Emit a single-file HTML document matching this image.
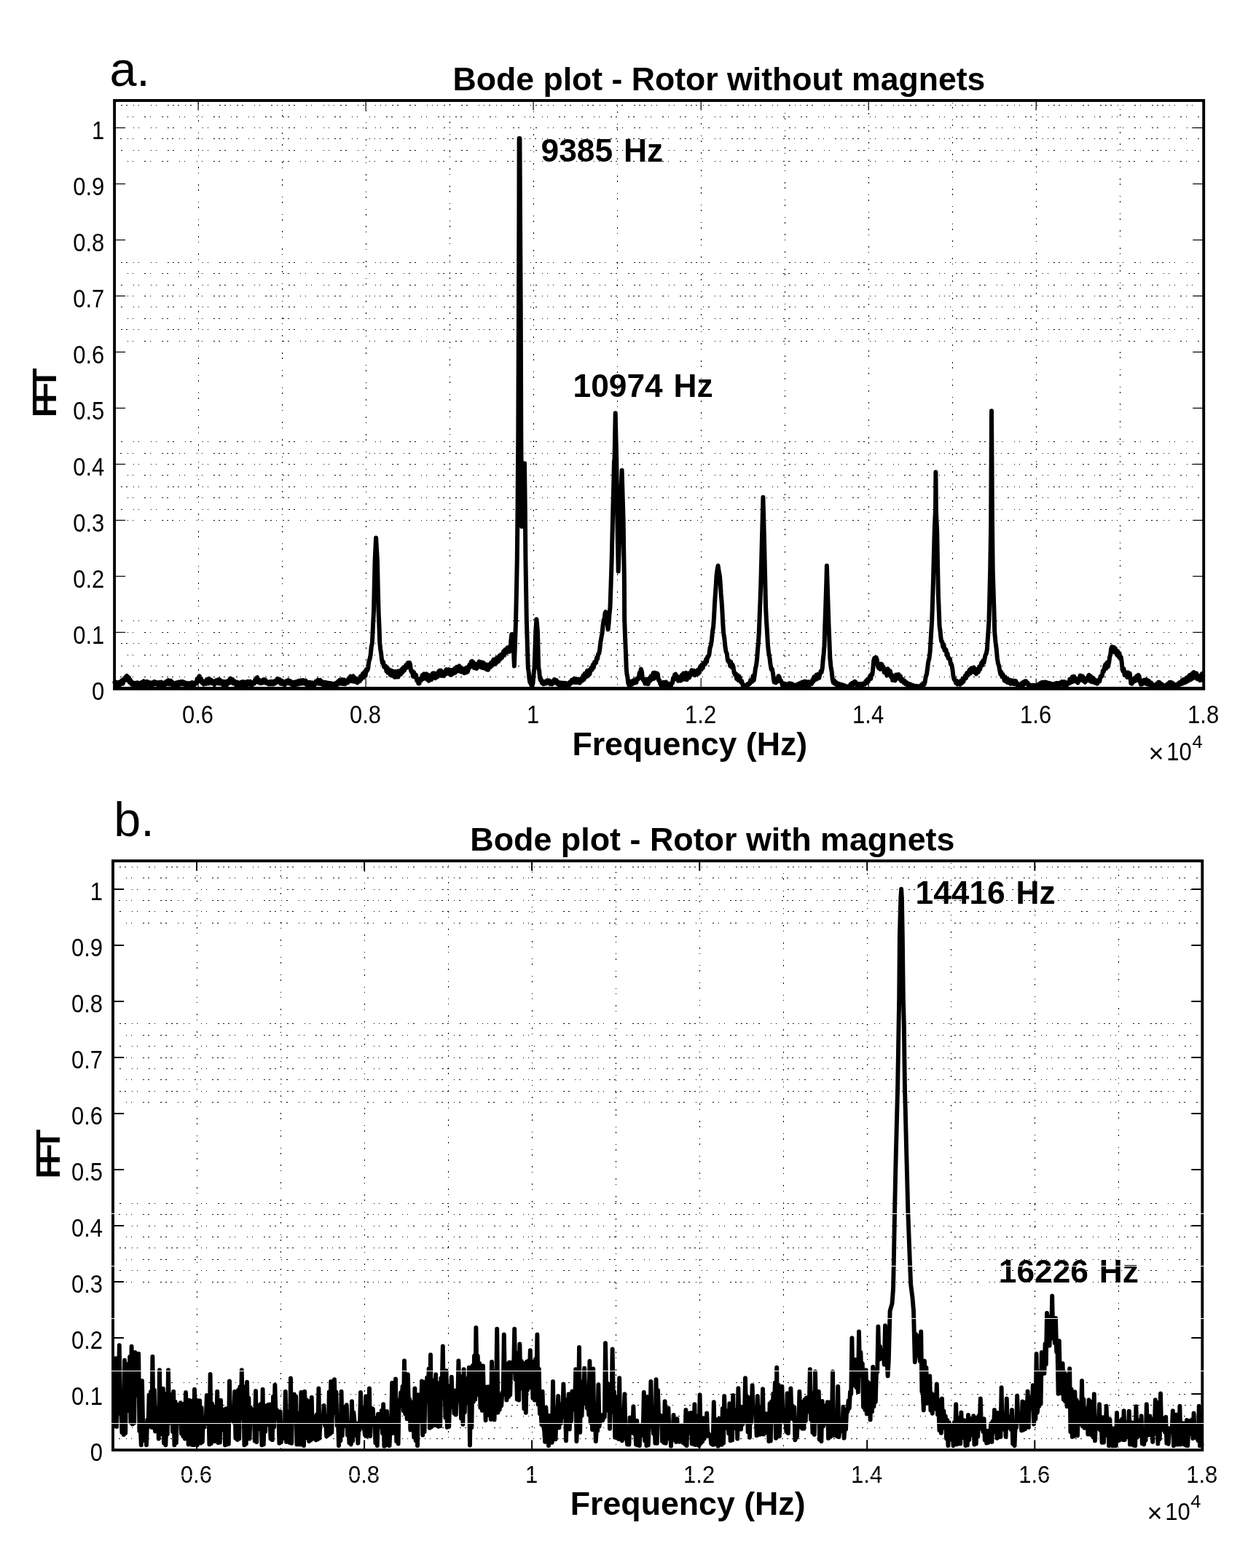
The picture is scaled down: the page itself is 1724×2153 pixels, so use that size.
<!DOCTYPE html>
<html lang="en">
<head>
<meta charset="utf-8">
<title>Bode plot - Rotor without / with magnets</title>
<style>
html,body{margin:0;padding:0;background:#fff;}
body{width:1724px;height:2153px;overflow:hidden;font-family:"Liberation Sans",Arial,Helvetica,sans-serif;}
svg{display:block;}
text{white-space:pre;}
</style>
</head>
<body>
<svg width="1724" height="2153" viewBox="0 0 1724 2153">
<rect x="0" y="0" width="1724" height="2153" fill="#fff"/>
<!-- a. Rotor without magnets -->
<g stroke="#000" stroke-width="1" fill="none" shape-rendering="crispEdges"><line x1="272.1" y1="141.0" x2="272.1" y2="943.3" stroke-dasharray="1.5 5.9 1.5 14.9" stroke-dashoffset="7.0"/><line x1="387.1" y1="141.0" x2="387.1" y2="943.3" stroke-dasharray="1.5 5.9 1.5 14.9" stroke-dashoffset="14.0"/><line x1="502.1" y1="141.0" x2="502.1" y2="943.3" stroke-dasharray="1.5 5.9 1.5 14.9" stroke-dashoffset="21.0"/><line x1="617.1" y1="141.0" x2="617.1" y2="943.3" stroke-dasharray="1.5 5.9 1.5 14.9" stroke-dashoffset="5.0"/><line x1="732.1" y1="141.0" x2="732.1" y2="943.3" stroke-dasharray="1.5 5.9 1.5 14.9" stroke-dashoffset="12.0"/><line x1="847.1" y1="141.0" x2="847.1" y2="943.3" stroke-dasharray="1.5 5.9 1.5 14.9" stroke-dashoffset="19.0"/><line x1="962.2" y1="141.0" x2="962.2" y2="943.3" stroke-dasharray="1.5 5.9 1.5 14.9" stroke-dashoffset="3.0"/><line x1="1077.2" y1="141.0" x2="1077.2" y2="943.3" stroke-dasharray="1.5 5.9 1.5 14.9" stroke-dashoffset="10.0"/><line x1="1192.2" y1="141.0" x2="1192.2" y2="943.3" stroke-dasharray="1.5 5.9 1.5 14.9" stroke-dashoffset="17.0"/><line x1="1307.2" y1="141.0" x2="1307.2" y2="943.3" stroke-dasharray="1.5 5.9 1.5 14.9" stroke-dashoffset="1.0"/><line x1="1422.2" y1="141.0" x2="1422.2" y2="943.3" stroke-dasharray="1.5 5.9 1.5 14.9" stroke-dashoffset="8.0"/><line x1="1537.2" y1="141.0" x2="1537.2" y2="943.3" stroke-dasharray="1.5 5.9 1.5 14.9" stroke-dashoffset="15.0"/><line x1="162.1" y1="144.7" x2="1648.2" y2="144.7" stroke-dasharray="1.5 5.6 1.5 5.6 1.5 8.0 1.5 5.6 1.5 15.1 1.5 5.6 1.5 15.1" stroke-dashoffset="3.0"/><line x1="162.1" y1="160.1" x2="1648.2" y2="160.1" stroke-dasharray="1.5 5.6 1.5 15.1" stroke-dashoffset="11.1"/><line x1="162.1" y1="175.5" x2="1648.2" y2="175.5" stroke-dasharray="1.5 5.6 1.5 15.1" stroke-dashoffset="3.0"/><line x1="162.1" y1="190.9" x2="1648.2" y2="190.9" stroke-dasharray="1.5 5.6 1.5 5.6 1.5 8.0 1.5 5.6 1.5 15.1 1.5 5.6 1.5 15.1" stroke-dashoffset="11.1"/><line x1="162.1" y1="206.3" x2="1648.2" y2="206.3" stroke-dasharray="1.5 5.6 1.5 15.1" stroke-dashoffset="3.0"/><line x1="162.1" y1="221.7" x2="1648.2" y2="221.7" stroke-dasharray="1.5 5.6 1.5 15.1" stroke-dashoffset="11.1"/><line x1="162.1" y1="360.3" x2="1648.2" y2="360.3" stroke-dasharray="1.5 5.6 1.5 5.6 1.5 8.0 1.5 5.6 1.5 15.1 1.5 5.6 1.5 15.1" stroke-dashoffset="3.0"/><line x1="162.1" y1="375.6" x2="1648.2" y2="375.6" stroke-dasharray="1.5 5.6 1.5 15.1" stroke-dashoffset="11.1"/><line x1="162.1" y1="391.0" x2="1648.2" y2="391.0" stroke-dasharray="1.5 5.6 1.5 15.1" stroke-dashoffset="3.0"/><line x1="162.1" y1="406.4" x2="1648.2" y2="406.4" stroke-dasharray="1.5 5.6 1.5 5.6 1.5 8.0 1.5 5.6 1.5 15.1 1.5 5.6 1.5 15.1" stroke-dashoffset="11.1"/><line x1="162.1" y1="421.8" x2="1648.2" y2="421.8" stroke-dasharray="1.5 5.6 1.5 15.1" stroke-dashoffset="3.0"/><line x1="162.1" y1="437.2" x2="1648.2" y2="437.2" stroke-dasharray="1.5 5.6 1.5 15.1" stroke-dashoffset="11.1"/><line x1="162.1" y1="452.6" x2="1648.2" y2="452.6" stroke-dasharray="1.5 5.6 1.5 5.6 1.5 8.0 1.5 5.6 1.5 15.1 1.5 5.6 1.5 15.1" stroke-dashoffset="3.0"/><line x1="162.1" y1="468.0" x2="1648.2" y2="468.0" stroke-dasharray="1.5 5.6 1.5 15.1" stroke-dashoffset="11.1"/><line x1="162.1" y1="606.6" x2="1648.2" y2="606.6" stroke-dasharray="1.5 5.6 1.5 15.1" stroke-dashoffset="3.0"/><line x1="162.1" y1="622.0" x2="1648.2" y2="622.0" stroke-dasharray="1.5 5.6 1.5 5.6 1.5 8.0 1.5 5.6 1.5 15.1 1.5 5.6 1.5 15.1" stroke-dashoffset="11.1"/><line x1="162.1" y1="637.4" x2="1648.2" y2="637.4" stroke-dasharray="1.5 5.6 1.5 15.1" stroke-dashoffset="3.0"/><line x1="162.1" y1="652.8" x2="1648.2" y2="652.8" stroke-dasharray="1.5 5.6 1.5 15.1" stroke-dashoffset="11.1"/><line x1="162.1" y1="668.2" x2="1648.2" y2="668.2" stroke-dasharray="1.5 5.6 1.5 5.6 1.5 8.0 1.5 5.6 1.5 15.1 1.5 5.6 1.5 15.1" stroke-dashoffset="3.0"/><line x1="162.1" y1="683.6" x2="1648.2" y2="683.6" stroke-dasharray="1.5 5.6 1.5 15.1" stroke-dashoffset="11.1"/><line x1="162.1" y1="699.0" x2="1648.2" y2="699.0" stroke-dasharray="1.5 5.6 1.5 15.1" stroke-dashoffset="3.0"/><line x1="162.1" y1="714.4" x2="1648.2" y2="714.4" stroke-dasharray="1.5 5.6 1.5 5.6 1.5 8.0 1.5 5.6 1.5 15.1 1.5 5.6 1.5 15.1" stroke-dashoffset="11.1"/><line x1="162.1" y1="852.9" x2="1648.2" y2="852.9" stroke-dasharray="1.5 5.6 1.5 15.1" stroke-dashoffset="3.0"/><line x1="162.1" y1="868.3" x2="1648.2" y2="868.3" stroke-dasharray="1.5 5.6 1.5 15.1" stroke-dashoffset="11.1"/><line x1="162.1" y1="883.7" x2="1648.2" y2="883.7" stroke-dasharray="1.5 5.6 1.5 5.6 1.5 8.0 1.5 5.6 1.5 15.1 1.5 5.6 1.5 15.1" stroke-dashoffset="3.0"/><line x1="162.1" y1="899.1" x2="1648.2" y2="899.1" stroke-dasharray="1.5 5.6 1.5 15.1" stroke-dashoffset="11.1"/><line x1="162.1" y1="914.5" x2="1648.2" y2="914.5" stroke-dasharray="1.5 5.6 1.5 15.1" stroke-dashoffset="3.0"/><line x1="162.1" y1="929.9" x2="1648.2" y2="929.9" stroke-dasharray="1.5 5.6 1.5 5.6 1.5 8.0 1.5 5.6 1.5 15.1 1.5 5.6 1.5 15.1" stroke-dashoffset="11.1"/></g>
<g stroke="#000" stroke-width="1.20" fill="none"><line x1="272.1" y1="138.0" x2="272.1" y2="151.6"/><line x1="272.1" y1="945.3" x2="272.1" y2="931.7"/><line x1="502.1" y1="138.0" x2="502.1" y2="151.6"/><line x1="502.1" y1="945.3" x2="502.1" y2="931.7"/><line x1="732.1" y1="138.0" x2="732.1" y2="151.6"/><line x1="732.1" y1="945.3" x2="732.1" y2="931.7"/><line x1="962.2" y1="138.0" x2="962.2" y2="151.6"/><line x1="962.2" y1="945.3" x2="962.2" y2="931.7"/><line x1="1192.2" y1="138.0" x2="1192.2" y2="151.6"/><line x1="1192.2" y1="945.3" x2="1192.2" y2="931.7"/><line x1="1422.2" y1="138.0" x2="1422.2" y2="151.6"/><line x1="1422.2" y1="945.3" x2="1422.2" y2="931.7"/><line x1="157.1" y1="868.3" x2="172.1" y2="868.3"/><line x1="1652.2" y1="868.3" x2="1637.2" y2="868.3"/><line x1="157.1" y1="791.3" x2="172.1" y2="791.3"/><line x1="1652.2" y1="791.3" x2="1637.2" y2="791.3"/><line x1="157.1" y1="714.4" x2="172.1" y2="714.4"/><line x1="1652.2" y1="714.4" x2="1637.2" y2="714.4"/><line x1="157.1" y1="637.4" x2="172.1" y2="637.4"/><line x1="1652.2" y1="637.4" x2="1637.2" y2="637.4"/><line x1="157.1" y1="560.4" x2="172.1" y2="560.4"/><line x1="1652.2" y1="560.4" x2="1637.2" y2="560.4"/><line x1="157.1" y1="483.4" x2="172.1" y2="483.4"/><line x1="1652.2" y1="483.4" x2="1637.2" y2="483.4"/><line x1="157.1" y1="406.4" x2="172.1" y2="406.4"/><line x1="1652.2" y1="406.4" x2="1637.2" y2="406.4"/><line x1="157.1" y1="329.5" x2="172.1" y2="329.5"/><line x1="1652.2" y1="329.5" x2="1637.2" y2="329.5"/><line x1="157.1" y1="252.5" x2="172.1" y2="252.5"/><line x1="1652.2" y1="252.5" x2="1637.2" y2="252.5"/><line x1="157.1" y1="175.5" x2="172.1" y2="175.5"/><line x1="1652.2" y1="175.5" x2="1637.2" y2="175.5"/></g>
<polyline points="157.5,937.0 158.4,936.4 159.4,941.0 160.3,938.0 161.2,937.1 162.1,941.4 162.9,937.6 164.0,936.6 165.1,940.0 166.2,936.2 167.3,934.2 168.5,938.8 169.7,934.9 170.8,931.4 171.9,933.9 173.1,928.9 174.0,928.0 174.8,934.0 175.7,931.4 176.8,930.3 177.8,936.9 178.9,933.4 179.9,936.4 180.9,939.8 181.9,937.1 182.8,937.9 183.9,941.2 185.0,937.8 186.1,940.8 187.2,937.7 188.3,937.4 189.4,942.0 190.5,938.9 191.4,938.1 192.3,942.3 193.1,938.6 194.2,937.1 195.2,940.2 196.2,936.4 197.1,935.4 198.0,940.2 198.9,936.9 200.0,936.1 201.0,940.3 202.0,936.0 203.1,936.5 204.3,939.9 205.5,937.2 206.7,937.9 207.8,941.0 208.9,937.3 210.0,937.6 210.9,939.8 211.7,936.1 212.6,936.2 213.6,939.4 214.5,936.8 215.5,938.0 216.6,940.2 217.8,936.9 218.9,936.9 220.1,940.3 221.3,936.7 222.5,937.4 223.6,940.9 224.6,937.9 225.6,938.4 226.6,940.0 227.6,936.4 228.6,939.3 229.5,935.2 230.8,934.1 232.0,939.5 233.2,935.3 234.3,934.7 235.3,939.9 236.4,936.4 237.4,938.2 238.5,941.9 239.5,938.2 240.5,938.9 241.4,940.8 242.3,937.3 243.3,937.3 244.3,940.2 245.3,936.6 246.3,939.9 247.3,936.5 248.4,936.0 249.6,939.5 250.7,936.1 251.7,936.2 252.7,939.7 253.6,937.1 254.6,938.3 255.8,941.3 257.0,938.1 258.2,938.6 259.3,941.5 260.3,938.0 261.4,938.1 262.6,941.0 263.8,937.2 265.0,937.7 266.2,941.4 267.3,937.5 268.5,937.8 269.6,938.3 270.6,932.1 271.7,934.4 272.8,929.7 273.8,928.4 274.8,935.6 275.7,931.4 276.7,934.1 277.6,937.9 278.6,935.1 279.6,939.6 280.6,937.9 281.7,936.1 282.8,939.0 283.9,932.7 285.1,933.6 286.1,938.5 287.1,931.9 288.1,933.7 289.1,937.5 290.0,933.7 291.0,938.3 292.0,936.1 293.1,935.6 294.3,940.1 295.4,936.3 296.3,934.5 297.2,938.0 298.1,934.3 299.1,933.5 300.1,938.5 301.2,933.2 302.2,934.7 303.2,938.7 304.2,935.1 305.2,937.2 306.2,940.4 307.3,935.8 308.3,940.1 309.4,936.2 310.5,935.8 311.7,940.1 312.8,936.7 313.9,934.3 314.9,937.8 316.0,931.5 317.1,932.5 318.1,937.2 319.2,932.9 320.2,938.4 321.3,936.0 322.4,935.5 323.5,940.1 324.6,937.1 325.7,936.7 326.8,940.8 327.8,937.8 328.9,938.9 329.8,940.7 330.8,936.7 331.7,936.5 332.7,940.2 333.7,936.1 334.7,936.7 335.8,940.7 337.0,936.5 338.1,937.8 339.1,940.2 340.1,935.7 341.2,936.0 342.3,939.8 343.4,935.7 344.5,937.1 345.7,940.9 346.9,937.1 348.1,938.7 349.1,938.8 350.1,933.5 351.0,935.7 352.0,931.1 353.2,930.2 354.5,936.9 355.7,934.4 356.6,934.0 357.5,938.3 358.3,937.1 359.4,935.4 360.4,937.7 361.4,933.2 362.4,933.1 363.4,936.9 364.5,933.9 365.5,938.1 366.5,936.6 367.6,936.5 368.7,939.4 369.8,936.3 370.7,936.1 371.7,939.4 372.6,935.9 373.6,936.2 374.4,939.5 375.3,935.9 376.2,936.5 377.1,938.8 378.1,934.5 379.0,934.6 379.9,936.9 380.8,931.9 381.6,932.5 382.6,936.4 383.5,932.6 384.4,935.1 385.5,938.8 386.6,934.5 387.7,936.1 388.7,939.5 389.8,936.0 390.9,940.3 391.9,937.3 392.8,935.3 393.8,938.2 394.7,934.5 395.8,933.8 396.8,938.4 397.9,935.2 398.8,935.3 399.7,939.6 400.7,938.3 401.8,937.2 402.9,941.3 404.0,936.6 405.1,937.4 406.3,940.0 407.4,935.9 408.6,936.3 409.5,939.5 410.4,934.7 411.3,935.2 412.3,938.8 413.3,934.2 414.3,934.8 415.3,938.4 416.2,934.1 417.2,934.6 418.3,938.6 419.4,934.5 420.5,940.0 421.6,937.6 422.5,936.9 423.4,941.4 424.4,937.6 425.2,937.0 426.1,941.3 426.9,937.6 428.0,937.4 429.1,941.2 430.3,938.0 431.4,938.6 432.3,940.1 433.3,935.9 434.3,938.3 435.3,934.8 436.3,933.7 437.4,938.8 438.5,934.4 439.5,933.9 440.5,939.3 441.5,935.6 442.5,937.6 443.6,940.4 444.6,936.7 445.6,940.1 446.6,937.0 447.6,936.9 448.6,940.9 449.5,938.4 450.0,938.4 451.2,937.8 452.3,941.8 453.5,938.0 454.6,942.1 455.8,938.5 457.0,942.4 458.1,938.7 459.3,942.8 460.4,939.3 461.6,937.7 462.8,940.1 463.9,935.7 465.1,938.9 466.2,933.7 467.4,934.0 468.6,938.8 469.9,933.1 471.1,939.0 472.4,933.5 473.6,939.2 474.9,934.7 476.1,935.8 477.3,937.4 478.5,931.5 479.8,935.4 481.0,928.8 482.2,929.7 483.4,935.5 484.6,928.3 485.8,935.7 487.0,930.4 488.2,936.3 489.4,932.3 490.6,937.6 491.8,934.9 492.8,932.3 493.9,935.3 494.9,928.5 495.9,932.5 497.0,928.0 498.1,924.8 499.3,930.1 500.5,922.3 501.6,927.8 502.8,919.0 503.9,921.0 505.1,918.5 506.3,908.6 507.4,905.3 508.6,899.6 509.7,888.6 510.9,882.7 511.9,861.7 513.0,839.2 513.8,804.1 514.6,769.6 515.3,755.0 516.1,738.5 517.0,753.4 517.9,769.6 518.7,804.9 519.6,839.2 520.5,860.5 521.3,882.7 522.2,891.4 523.1,896.9 524.0,905.3 525.0,910.6 526.1,908.8 527.2,915.9 528.3,915.8 529.4,914.7 530.4,921.6 531.4,916.5 532.5,923.8 533.5,921.0 534.7,919.7 535.8,926.7 537.0,920.8 538.2,927.8 539.3,921.6 540.5,924.5 541.7,929.8 543.0,922.0 544.2,929.6 545.5,921.8 546.7,929.5 547.9,921.2 549.2,923.6 550.3,925.8 551.5,918.8 552.7,923.0 553.8,916.2 555.0,920.6 556.1,915.8 557.4,913.0 558.6,916.7 559.8,910.3 561.0,914.4 562.2,909.9 563.1,912.7 564.0,920.7 564.8,922.7 565.9,921.5 566.9,928.7 568.0,922.9 569.0,929.5 570.1,926.2 571.2,927.3 572.2,934.6 573.3,934.0 574.4,938.4 575.5,938.4 576.6,932.4 577.7,934.6 578.8,929.7 579.8,927.0 580.9,932.3 581.9,925.3 582.9,930.9 584.0,926.2 585.2,925.3 586.3,933.0 587.5,926.6 588.6,934.9 589.8,929.5 591.0,933.2 592.1,933.3 593.3,925.1 594.4,924.5 595.5,929.5 596.5,924.5 597.6,931.2 598.6,926.5 599.7,929.7 600.8,929.3 602.0,922.1 603.1,921.0 604.2,926.3 605.2,920.6 606.3,928.0 607.3,923.5 608.4,926.2 609.4,928.1 610.4,922.0 611.5,925.9 612.5,919.2 613.6,920.1 614.7,924.8 615.9,919.2 617.1,925.7 618.2,920.0 619.4,926.8 620.5,922.7 621.8,920.0 623.0,924.7 624.3,917.8 625.5,923.3 626.7,915.8 628.0,921.1 629.2,915.8 630.4,914.5 631.6,921.9 632.7,916.6 633.9,922.7 635.0,918.3 636.2,921.0 637.4,924.2 638.5,917.9 639.7,923.5 640.8,916.5 642.0,922.3 643.2,917.5 644.3,912.9 645.5,916.0 646.7,908.6 647.9,907.9 648.9,913.7 649.9,909.4 650.9,917.2 651.9,915.8 653.0,911.8 654.2,918.0 655.3,911.3 656.5,915.7 657.7,908.4 658.8,910.6 660.0,916.1 661.1,909.2 662.3,916.9 663.5,910.0 664.6,917.6 665.8,914.0 666.8,912.3 667.9,919.1 668.9,912.8 670.0,919.8 671.0,915.8 672.0,912.3 673.1,916.2 674.1,909.8 675.2,914.2 676.2,908.8 677.4,905.9 678.5,912.2 679.7,905.1 680.9,910.9 682.0,903.0 683.2,905.3 684.3,908.3 685.5,900.3 686.7,905.3 687.8,898.9 689.0,903.0 690.1,898.4 691.2,894.3 692.2,899.8 693.3,891.9 694.3,896.6 695.4,891.4 696.4,889.4 697.4,895.0 698.5,888.7 699.5,894.7 700.6,889.7 701.4,879.3 702.3,871.0 703.2,875.6 704.2,874.0 705.0,893.8 705.9,914.5 707.0,883.2 708.1,851.0 709.0,808.7 709.8,767.0 710.5,700.0 711.3,600.0 712.0,420.0 712.4,300.0 712.6,190.0 713.4,190.0 714.0,300.0 714.7,420.0 715.3,600.0 716.2,723.0 716.9,712.3 717.5,700.0 718.3,678.3 719.2,658.2 720.0,636.3 720.8,700.0 721.4,767.0 722.1,808.8 722.8,851.0 723.8,884.4 724.8,917.0 725.7,922.5 726.5,931.7 727.4,937.0 728.5,938.0 729.5,941.0 730.5,941.7 731.5,938.0 732.5,926.4 733.5,917.0 734.4,893.2 735.2,868.0 736.4,850.3 737.2,857.9 738.0,868.0 738.6,893.1 739.3,917.0 740.2,921.2 741.0,930.6 741.9,934.0 742.9,933.1 743.9,937.9 744.9,935.5 745.9,939.3 746.9,937.5 748.1,936.1 749.4,938.6 750.6,934.5 751.9,934.3 752.9,937.8 753.9,934.7 754.9,939.1 755.9,936.5 756.9,937.7 757.9,939.3 758.9,935.2 759.9,937.8 760.9,933.0 761.9,933.5 762.9,937.4 763.9,934.2 764.9,939.0 765.9,936.5 766.9,938.5 768.0,941.8 769.2,937.4 770.3,941.1 771.4,937.6 772.5,940.9 773.6,937.7 774.7,937.7 775.8,941.1 777.0,938.1 778.1,942.2 779.2,938.5 780.3,939.4 781.4,940.5 782.5,936.2 783.6,938.6 784.8,933.9 785.9,936.6 787.0,932.7 788.1,931.8 789.2,937.1 790.3,932.3 791.4,937.0 792.6,932.8 793.7,937.2 794.8,932.6 795.9,937.8 797.0,934.3 798.1,931.5 799.3,934.6 800.4,927.6 801.5,933.0 802.6,924.8 803.7,926.0 804.8,929.4 805.9,921.1 807.1,928.1 808.2,920.3 809.3,925.7 810.4,921.0 811.5,916.9 812.6,919.8 813.7,912.9 814.9,916.6 816.0,909.1 817.1,909.3 818.1,910.0 819.1,902.8 820.1,904.8 821.1,898.0 822.1,897.6 823.2,892.1 824.3,881.7 825.4,875.8 826.6,869.0 827.7,857.9 828.8,850.8 829.6,849.6 830.5,842.1 831.3,840.2 832.4,850.3 833.5,854.7 834.6,864.3 835.6,855.7 836.5,843.0 837.5,834.0 838.6,801.3 839.7,767.2 840.5,733.3 841.3,700.3 842.2,667.3 843.0,633.4 843.5,630.5 844.7,567.2 845.4,598.6 846.2,630.5 847.4,714.0 848.0,749.5 848.7,784.4 849.9,748.7 851.0,714.0 851.9,691.9 852.7,667.9 853.6,645.8 854.6,680.4 855.6,714.0 856.2,755.6 856.9,797.6 857.2,850.8 858.0,873.6 858.9,894.9 859.7,917.6 860.5,925.8 861.4,930.0 862.2,937.7 863.3,940.7 864.4,936.6 865.6,940.2 866.7,935.5 867.8,939.6 868.9,936.0 870.0,933.9 871.1,937.8 872.2,933.2 873.4,937.1 874.5,931.6 875.6,932.7 876.6,932.0 877.7,923.8 878.7,924.7 879.8,918.8 880.9,922.1 882.0,931.4 883.1,934.3 884.2,933.0 885.3,938.7 886.3,933.1 887.4,938.8 888.5,932.8 889.6,939.3 890.6,934.3 891.6,931.1 892.6,934.9 893.6,928.3 894.7,932.9 895.7,927.7 896.7,924.1 897.8,931.9 898.9,923.6 900.0,926.0 900.9,929.8 901.8,924.5 902.8,925.5 903.9,933.8 905.0,933.8 906.1,938.4 907.3,941.0 908.4,937.7 909.6,940.8 910.7,936.8 911.9,940.0 913.1,936.7 914.2,936.5 915.3,941.0 916.4,938.3 917.5,942.4 918.7,939.4 919.8,943.5 920.9,941.9 921.9,937.8 923.0,937.8 924.0,930.9 925.1,932.5 926.1,926.2 927.3,925.7 928.5,932.6 929.8,928.5 931.0,934.9 932.2,933.2 933.4,930.4 934.5,934.7 935.7,926.8 936.8,933.1 938.0,924.4 939.2,926.2 940.4,932.6 941.6,923.8 942.8,933.3 944.0,925.2 945.3,928.0 946.3,930.3 947.3,923.3 948.4,927.1 949.4,920.3 950.5,921.0 951.6,925.5 952.7,920.8 953.7,927.2 954.8,924.5 955.9,921.8 956.9,926.0 958.0,919.6 959.0,924.7 960.0,919.3 961.2,915.1 962.4,919.7 963.5,912.4 964.7,917.4 965.8,910.1 967.0,910.6 968.1,911.8 969.1,905.1 970.1,908.7 971.2,901.6 972.2,901.9 973.4,898.9 974.5,889.8 975.7,886.2 976.9,879.0 978.0,867.5 979.2,860.1 980.1,846.5 980.9,830.5 981.8,816.6 982.7,804.5 983.5,790.5 984.6,782.4 985.6,776.8 986.8,785.5 987.9,790.5 988.8,801.3 989.6,815.0 990.5,825.3 991.4,839.0 992.2,855.5 993.1,868.8 994.3,876.2 995.4,887.8 996.6,894.9 997.7,897.4 998.9,906.7 1000.1,908.8 1001.1,907.5 1002.2,914.2 1003.2,908.8 1004.2,916.0 1005.3,912.3 1006.5,915.5 1007.6,923.6 1008.8,926.2 1009.9,924.8 1011.1,931.9 1012.3,926.9 1013.4,934.1 1014.6,928.5 1015.7,931.5 1016.9,936.7 1018.2,935.1 1019.4,940.6 1020.6,940.4 1021.8,943.5 1023.0,943.5 1024.3,940.7 1025.5,943.1 1026.7,938.8 1027.9,938.4 1029.1,939.0 1030.2,933.7 1031.4,933.2 1032.5,935.9 1033.6,928.1 1034.7,934.0 1035.7,928.0 1036.9,918.1 1038.1,913.3 1039.2,903.6 1040.1,891.2 1041.0,881.4 1041.8,868.8 1042.7,845.2 1043.6,823.0 1044.4,799.2 1045.3,764.1 1046.2,729.6 1047.4,682.8 1048.3,715.3 1049.1,747.0 1050.1,790.2 1051.1,834.0 1052.0,852.3 1053.0,867.9 1054.0,886.2 1055.2,897.0 1056.3,902.1 1057.5,912.3 1058.7,919.0 1059.8,918.6 1061.0,924.5 1061.8,931.9 1062.7,936.7 1063.9,934.6 1065.0,937.4 1066.2,931.7 1067.4,935.7 1068.5,928.3 1069.7,929.7 1070.8,935.2 1072.0,934.6 1073.2,938.4 1074.3,941.8 1075.5,938.4 1076.6,942.5 1077.8,938.9 1079.0,942.9 1080.1,940.2 1081.2,939.4 1082.3,942.1 1083.4,938.3 1084.5,938.4 1085.6,941.5 1086.8,939.0 1087.9,943.2 1089.1,940.0 1090.3,943.5 1091.4,941.9 1092.6,940.8 1093.7,943.5 1094.8,939.7 1096.0,942.8 1097.1,938.5 1098.2,941.5 1099.3,937.5 1100.5,940.8 1101.6,936.6 1102.7,936.7 1103.8,940.3 1104.8,935.6 1105.9,940.9 1106.9,936.1 1108.0,936.7 1109.0,940.1 1110.0,936.2 1111.1,940.8 1112.1,937.3 1113.2,938.4 1114.2,938.8 1115.3,933.3 1116.3,936.0 1117.4,929.3 1118.4,929.7 1119.6,933.1 1120.7,926.6 1121.9,932.1 1123.0,925.7 1124.2,930.9 1125.4,926.2 1126.5,921.9 1127.7,923.0 1128.8,917.5 1129.7,906.1 1130.6,897.7 1131.5,886.2 1132.3,859.6 1133.2,834.0 1134.1,805.9 1134.9,776.8 1135.8,804.9 1136.7,834.0 1137.5,857.8 1138.4,880.0 1139.3,903.6 1140.4,914.9 1141.6,922.1 1142.8,933.2 1143.8,937.3 1144.8,934.1 1145.9,938.9 1146.9,936.2 1148.0,938.4 1149.1,941.3 1150.3,938.6 1151.5,942.1 1152.6,939.2 1153.8,942.5 1154.9,940.2 1156.2,940.2 1157.4,943.5 1158.7,941.2 1159.9,943.5 1161.2,942.1 1162.4,943.5 1163.6,943.5 1164.9,942.3 1166.1,943.5 1167.4,939.7 1168.6,942.3 1169.9,937.7 1171.1,940.1 1172.3,936.7 1173.1,935.8 1174.1,936.3 1175.2,940.0 1176.3,938.3 1177.4,940.2 1178.6,942.9 1179.9,939.1 1181.1,942.2 1182.4,939.0 1183.6,942.1 1184.9,938.5 1186.1,938.4 1187.3,939.4 1188.4,935.2 1189.6,937.8 1190.7,932.7 1191.9,935.7 1193.1,931.5 1194.2,928.1 1195.2,932.2 1196.3,925.5 1197.4,926.2 1198.3,917.7 1199.2,907.1 1200.3,903.7 1201.5,907.6 1202.6,902.7 1203.8,906.0 1205.0,914.7 1206.1,917.5 1207.2,913.7 1208.3,918.9 1209.4,911.6 1210.5,912.3 1211.6,917.6 1212.6,915.7 1213.7,923.3 1214.8,922.8 1216.0,919.4 1217.3,927.6 1218.5,918.3 1219.7,926.4 1220.9,921.0 1221.9,921.5 1223.0,929.3 1224.0,926.5 1225.1,934.1 1226.1,933.2 1227.3,929.9 1228.6,934.5 1229.8,926.5 1231.0,931.5 1232.2,926.4 1233.4,926.0 1234.7,932.5 1235.9,928.3 1237.1,935.1 1238.3,933.2 1239.5,933.1 1240.6,937.5 1241.8,934.9 1242.9,939.2 1244.1,936.9 1245.3,938.4 1246.5,941.6 1247.8,939.0 1249.0,942.5 1250.2,939.8 1251.5,943.5 1252.7,940.8 1254.0,941.9 1255.2,943.5 1256.5,941.9 1257.7,943.5 1258.9,942.2 1260.2,943.5 1261.4,942.2 1262.7,942.8 1263.8,943.5 1265.0,940.0 1266.1,942.4 1267.3,938.0 1268.5,940.0 1269.6,936.7 1270.8,928.6 1271.9,926.3 1273.1,917.5 1274.3,908.2 1275.4,904.4 1276.6,894.9 1277.5,879.8 1278.3,866.7 1279.2,851.4 1280.1,824.8 1280.9,799.2 1281.8,764.8 1282.7,729.6 1283.3,714.2 1284.0,700.0 1284.4,648.3 1284.9,700.0 1285.5,715.5 1286.2,729.6 1287.0,772.8 1287.9,816.6 1288.8,839.1 1289.6,860.1 1290.5,865.9 1291.4,875.6 1292.3,881.0 1293.3,881.1 1294.3,888.3 1295.4,884.9 1296.4,892.9 1297.5,891.4 1298.5,892.0 1299.6,899.8 1300.6,897.2 1301.6,903.9 1302.7,903.6 1303.9,904.7 1305.0,912.2 1306.2,912.3 1307.3,918.2 1308.5,928.0 1309.7,933.2 1310.8,933.1 1312.0,937.7 1313.1,934.9 1314.3,939.6 1315.5,936.8 1316.6,938.4 1317.8,939.7 1318.9,934.8 1320.1,938.2 1321.3,932.3 1322.4,936.0 1323.6,931.5 1324.8,927.9 1326.0,931.1 1327.2,924.0 1328.4,927.4 1329.7,922.8 1330.9,919.6 1332.1,924.6 1333.3,917.5 1334.5,922.0 1335.8,917.5 1336.8,916.5 1337.8,923.2 1338.9,918.9 1339.9,925.4 1341.0,922.8 1342.0,918.8 1343.1,922.6 1344.1,915.3 1345.2,919.2 1346.2,914.1 1347.2,910.0 1348.3,913.6 1349.3,906.9 1350.4,910.2 1351.4,905.4 1352.6,899.2 1353.7,897.9 1354.9,891.4 1355.8,877.4 1356.6,865.7 1357.5,851.4 1358.4,816.2 1359.2,781.8 1360.2,720.0 1360.6,640.0 1361.0,564.3 1361.5,640.0 1362.0,720.0 1362.7,781.8 1363.6,811.3 1364.5,839.4 1365.3,868.8 1366.5,881.6 1367.7,891.0 1368.8,903.6 1370.0,911.2 1371.1,913.9 1372.3,921.0 1373.3,925.8 1374.4,922.6 1375.4,929.2 1376.5,925.8 1377.5,929.7 1378.7,934.4 1379.8,929.5 1381.0,936.0 1382.2,931.7 1383.3,937.3 1384.5,934.9 1385.7,933.6 1387.0,938.9 1388.2,934.3 1389.4,938.4 1390.7,934.5 1391.9,939.3 1393.2,934.9 1394.2,935.2 1395.3,939.8 1396.3,938.0 1397.4,942.9 1398.4,941.9 1399.6,940.2 1400.9,943.1 1402.1,938.4 1403.3,941.4 1404.6,936.5 1405.8,939.7 1407.1,935.2 1408.3,935.3 1409.4,938.6 1410.4,937.3 1411.5,940.9 1412.5,939.7 1413.6,941.3 1414.7,943.5 1415.8,941.2 1417.0,943.5 1418.1,940.9 1419.2,943.5 1420.4,941.2 1421.5,943.5 1422.6,941.3 1423.8,940.4 1425.0,942.8 1426.1,939.3 1427.3,942.5 1428.5,937.9 1429.7,941.4 1430.8,936.8 1432.0,940.5 1433.2,936.8 1434.4,936.5 1435.6,940.5 1436.8,937.0 1438.0,941.1 1439.2,937.8 1440.4,941.5 1441.6,938.4 1442.8,942.3 1444.0,939.2 1445.2,939.8 1446.5,942.8 1447.7,938.7 1448.9,942.4 1450.2,938.0 1451.4,941.6 1452.6,938.1 1453.9,940.7 1455.1,937.6 1456.3,939.9 1457.6,936.0 1458.8,936.8 1459.9,940.4 1461.0,936.1 1462.0,940.6 1463.1,937.0 1464.2,940.8 1465.3,937.7 1466.4,938.3 1467.4,938.4 1468.4,932.5 1469.4,932.3 1470.6,936.8 1471.8,929.3 1473.0,935.8 1474.2,928.7 1475.4,930.7 1476.4,935.2 1477.4,933.6 1478.4,936.8 1479.5,937.6 1480.5,931.5 1481.6,934.9 1482.6,927.6 1483.7,927.7 1484.8,932.3 1486.0,928.5 1487.1,934.9 1488.2,931.2 1489.4,936.9 1490.5,935.3 1491.5,931.6 1492.5,934.1 1493.5,929.2 1494.7,926.8 1495.9,934.9 1497.1,928.4 1498.3,936.2 1499.5,932.3 1500.6,930.8 1501.7,936.9 1502.8,933.3 1503.8,938.0 1504.9,934.7 1506.0,938.7 1507.1,936.8 1508.2,933.7 1509.3,935.4 1510.5,928.9 1511.6,929.2 1512.7,928.2 1513.9,920.7 1515.0,921.9 1516.1,915.7 1517.3,912.3 1518.5,917.8 1519.7,909.5 1521.0,915.4 1522.2,909.6 1523.2,902.0 1524.2,898.9 1525.2,890.8 1526.2,888.1 1527.2,894.9 1528.2,890.0 1529.1,889.0 1530.1,895.6 1531.0,890.4 1532.0,893.8 1533.1,899.2 1534.2,894.1 1535.4,901.7 1536.5,897.0 1537.6,904.2 1538.7,902.1 1539.5,907.6 1540.3,915.7 1541.4,921.6 1542.5,918.4 1543.6,927.0 1544.8,926.2 1546.0,923.4 1547.2,930.0 1548.4,923.4 1549.6,930.1 1550.8,924.7 1551.6,930.8 1552.3,938.3 1553.5,938.8 1554.6,934.5 1555.7,936.4 1556.8,932.3 1558.0,930.4 1559.1,934.7 1560.2,928.3 1561.4,933.8 1562.5,926.8 1563.6,928.5 1564.8,935.9 1565.9,939.8 1567.0,937.6 1568.2,939.1 1569.3,934.1 1570.4,933.8 1571.5,938.0 1572.6,933.2 1573.6,939.0 1574.7,933.9 1575.8,939.7 1576.9,935.0 1578.0,936.8 1579.0,940.2 1580.1,937.4 1581.2,942.2 1582.3,939.7 1583.3,943.4 1584.4,941.1 1585.5,942.8 1586.6,943.3 1587.8,938.9 1588.9,940.6 1590.0,936.8 1591.2,936.8 1592.3,940.8 1593.4,938.5 1594.5,942.1 1595.7,940.1 1596.8,943.5 1597.9,941.2 1599.1,942.8 1600.1,943.5 1601.2,940.4 1602.3,942.8 1603.4,938.6 1604.5,941.3 1605.5,936.8 1606.6,936.8 1607.7,939.7 1608.8,937.4 1609.8,941.3 1610.9,939.0 1612.0,942.4 1613.1,940.4 1614.2,941.3 1615.4,943.0 1616.6,939.0 1617.8,940.9 1619.0,937.0 1620.2,936.8 1621.4,939.0 1622.6,934.1 1623.8,938.4 1625.0,933.0 1626.2,933.8 1627.3,936.9 1628.4,930.7 1629.4,935.8 1630.5,929.5 1631.6,934.6 1632.7,927.1 1633.8,929.2 1635.0,932.9 1636.2,924.8 1637.4,931.3 1638.6,922.9 1639.8,924.7 1641.0,930.4 1642.2,924.5 1643.4,932.3 1644.6,927.6 1645.8,930.7 1646.9,934.1 1647.9,927.4 1649.0,933.9 1650.0,925.0 1651.1,927.7" fill="none" stroke="#000" stroke-width="6.00" stroke-linejoin="round" stroke-linecap="round"/>
<rect x="157.1" y="138.0" width="1495.1" height="807.3" fill="none" stroke="#000" stroke-width="3.9"/>
<line x1="155.2" y1="945.4" x2="1654.1" y2="945.4" stroke="#000" stroke-width="4.9"/>
<g font-family="'Liberation Sans', Arial, Helvetica, sans-serif" fill="#000"><text transform="translate(143.3 961.1) scale(1 1.125)" font-size="31" text-anchor="end">0</text><text transform="translate(143.3 884.1) scale(1 1.125)" font-size="31" text-anchor="end">0.1</text><text transform="translate(143.3 807.1) scale(1 1.125)" font-size="31" text-anchor="end">0.2</text><text transform="translate(143.3 730.2) scale(1 1.125)" font-size="31" text-anchor="end">0.3</text><text transform="translate(143.3 653.2) scale(1 1.125)" font-size="31" text-anchor="end">0.4</text><text transform="translate(143.3 576.2) scale(1 1.125)" font-size="31" text-anchor="end">0.5</text><text transform="translate(143.3 499.2) scale(1 1.125)" font-size="31" text-anchor="end">0.6</text><text transform="translate(143.3 422.2) scale(1 1.125)" font-size="31" text-anchor="end">0.7</text><text transform="translate(143.3 345.3) scale(1 1.125)" font-size="31" text-anchor="end">0.8</text><text transform="translate(143.3 268.3) scale(1 1.125)" font-size="31" text-anchor="end">0.9</text><text transform="translate(143.3 191.3) scale(1 1.125)" font-size="31" text-anchor="end">1</text><text transform="translate(271.5 992.8) scale(1 1.150)" font-size="31" text-anchor="middle">0.6</text><text transform="translate(501.5 992.8) scale(1 1.150)" font-size="31" text-anchor="middle">0.8</text><text transform="translate(731.5 992.8) scale(1 1.150)" font-size="31" text-anchor="middle">1</text><text transform="translate(961.6 992.8) scale(1 1.150)" font-size="31" text-anchor="middle">1.2</text><text transform="translate(1191.6 992.8) scale(1 1.150)" font-size="31" text-anchor="middle">1.4</text><text transform="translate(1421.6 992.8) scale(1 1.150)" font-size="31" text-anchor="middle">1.6</text><text transform="translate(1651.6 992.8) scale(1 1.150)" font-size="31" text-anchor="middle">1.8</text><text x="1576.5" y="1046.7" font-size="36">×</text><text transform="translate(1601.3 1043.7) scale(1 1.150)" font-size="31" text-anchor="start">10</text><text transform="translate(1636.4 1026.9) scale(1 0.970)" font-size="25.5" text-anchor="start">4</text></g>
<g font-family="'Liberation Sans', Arial, Helvetica, sans-serif" font-weight="bold" font-size="44.3" fill="#000"><text x="621.6" y="123.8" font-size="44.6">Bode plot - Rotor without magnets</text><text x="785.4" y="1036.6" font-size="44.7">Frequency (Hz)</text><text transform="translate(77.2 543.8) rotate(-90)" font-size="46.5" letter-spacing="-8.9" text-anchor="middle">FFT</text><text x="742.6" y="221.8" word-spacing="2.5">9385 Hz</text><text x="786.5" y="544.8" word-spacing="2.5">10974 Hz</text></g>
<text x="150.4" y="118.3" font-family="'Liberation Sans', Arial, Helvetica, sans-serif" font-size="66.5" fill="#000">a.</text>
<!-- b. Rotor with magnets -->
<g stroke="#000" stroke-width="1" fill="none" shape-rendering="crispEdges"><line x1="270.0" y1="1185.1" x2="270.0" y2="1989.0" stroke-dasharray="1.5 5.9 1.5 14.9" stroke-dashoffset="7.0"/><line x1="385.0" y1="1185.1" x2="385.0" y2="1989.0" stroke-dasharray="1.5 5.9 1.5 14.9" stroke-dashoffset="14.0"/><line x1="500.1" y1="1185.1" x2="500.1" y2="1989.0" stroke-dasharray="1.5 5.9 1.5 14.9" stroke-dashoffset="21.0"/><line x1="615.1" y1="1185.1" x2="615.1" y2="1989.0" stroke-dasharray="1.5 5.9 1.5 14.9" stroke-dashoffset="5.0"/><line x1="730.1" y1="1185.1" x2="730.1" y2="1989.0" stroke-dasharray="1.5 5.9 1.5 14.9" stroke-dashoffset="12.0"/><line x1="845.1" y1="1185.1" x2="845.1" y2="1989.0" stroke-dasharray="1.5 5.9 1.5 14.9" stroke-dashoffset="19.0"/><line x1="960.2" y1="1185.1" x2="960.2" y2="1989.0" stroke-dasharray="1.5 5.9 1.5 14.9" stroke-dashoffset="3.0"/><line x1="1075.2" y1="1185.1" x2="1075.2" y2="1989.0" stroke-dasharray="1.5 5.9 1.5 14.9" stroke-dashoffset="10.0"/><line x1="1190.2" y1="1185.1" x2="1190.2" y2="1989.0" stroke-dasharray="1.5 5.9 1.5 14.9" stroke-dashoffset="17.0"/><line x1="1305.2" y1="1185.1" x2="1305.2" y2="1989.0" stroke-dasharray="1.5 5.9 1.5 14.9" stroke-dashoffset="1.0"/><line x1="1420.3" y1="1185.1" x2="1420.3" y2="1989.0" stroke-dasharray="1.5 5.9 1.5 14.9" stroke-dashoffset="8.0"/><line x1="1535.3" y1="1185.1" x2="1535.3" y2="1989.0" stroke-dasharray="1.5 5.9 1.5 14.9" stroke-dashoffset="15.0"/><line x1="160.0" y1="1190.2" x2="1646.3" y2="1190.2" stroke-dasharray="1.5 5.6 1.5 5.6 1.5 8.0 1.5 5.6 1.5 15.1 1.5 5.6 1.5 15.1" stroke-dashoffset="3.0"/><line x1="160.0" y1="1205.6" x2="1646.3" y2="1205.6" stroke-dasharray="1.5 5.6 1.5 15.1" stroke-dashoffset="11.1"/><line x1="160.0" y1="1221.0" x2="1646.3" y2="1221.0" stroke-dasharray="1.5 5.6 1.5 15.1" stroke-dashoffset="3.0"/><line x1="160.0" y1="1236.4" x2="1646.3" y2="1236.4" stroke-dasharray="1.5 5.6 1.5 5.6 1.5 8.0 1.5 5.6 1.5 15.1 1.5 5.6 1.5 15.1" stroke-dashoffset="11.1"/><line x1="160.0" y1="1251.8" x2="1646.3" y2="1251.8" stroke-dasharray="1.5 5.6 1.5 15.1" stroke-dashoffset="3.0"/><line x1="160.0" y1="1267.2" x2="1646.3" y2="1267.2" stroke-dasharray="1.5 5.6 1.5 15.1" stroke-dashoffset="11.1"/><line x1="160.0" y1="1405.8" x2="1646.3" y2="1405.8" stroke-dasharray="1.5 5.6 1.5 5.6 1.5 8.0 1.5 5.6 1.5 15.1 1.5 5.6 1.5 15.1" stroke-dashoffset="3.0"/><line x1="160.0" y1="1421.2" x2="1646.3" y2="1421.2" stroke-dasharray="1.5 5.6 1.5 15.1" stroke-dashoffset="11.1"/><line x1="160.0" y1="1436.6" x2="1646.3" y2="1436.6" stroke-dasharray="1.5 5.6 1.5 15.1" stroke-dashoffset="3.0"/><line x1="160.0" y1="1452.0" x2="1646.3" y2="1452.0" stroke-dasharray="1.5 5.6 1.5 5.6 1.5 8.0 1.5 5.6 1.5 15.1 1.5 5.6 1.5 15.1" stroke-dashoffset="11.1"/><line x1="160.0" y1="1467.4" x2="1646.3" y2="1467.4" stroke-dasharray="1.5 5.6 1.5 15.1" stroke-dashoffset="3.0"/><line x1="160.0" y1="1482.8" x2="1646.3" y2="1482.8" stroke-dasharray="1.5 5.6 1.5 15.1" stroke-dashoffset="11.1"/><line x1="160.0" y1="1498.2" x2="1646.3" y2="1498.2" stroke-dasharray="1.5 5.6 1.5 5.6 1.5 8.0 1.5 5.6 1.5 15.1 1.5 5.6 1.5 15.1" stroke-dashoffset="3.0"/><line x1="160.0" y1="1513.6" x2="1646.3" y2="1513.6" stroke-dasharray="1.5 5.6 1.5 15.1" stroke-dashoffset="11.1"/><line x1="160.0" y1="1652.2" x2="1646.3" y2="1652.2" stroke-dasharray="1.5 5.6 1.5 15.1" stroke-dashoffset="3.0"/><line x1="160.0" y1="1667.6" x2="1646.3" y2="1667.6" stroke-dasharray="1.5 5.6 1.5 5.6 1.5 8.0 1.5 5.6 1.5 15.1 1.5 5.6 1.5 15.1" stroke-dashoffset="11.1"/><line x1="160.0" y1="1683.0" x2="1646.3" y2="1683.0" stroke-dasharray="1.5 5.6 1.5 15.1" stroke-dashoffset="3.0"/><line x1="160.0" y1="1698.4" x2="1646.3" y2="1698.4" stroke-dasharray="1.5 5.6 1.5 15.1" stroke-dashoffset="11.1"/><line x1="160.0" y1="1713.8" x2="1646.3" y2="1713.8" stroke-dasharray="1.5 5.6 1.5 5.6 1.5 8.0 1.5 5.6 1.5 15.1 1.5 5.6 1.5 15.1" stroke-dashoffset="3.0"/><line x1="160.0" y1="1729.2" x2="1646.3" y2="1729.2" stroke-dasharray="1.5 5.6 1.5 15.1" stroke-dashoffset="11.1"/><line x1="160.0" y1="1744.6" x2="1646.3" y2="1744.6" stroke-dasharray="1.5 5.6 1.5 15.1" stroke-dashoffset="3.0"/><line x1="160.0" y1="1760.0" x2="1646.3" y2="1760.0" stroke-dasharray="1.5 5.6 1.5 5.6 1.5 8.0 1.5 5.6 1.5 15.1 1.5 5.6 1.5 15.1" stroke-dashoffset="11.1"/><line x1="160.0" y1="1898.6" x2="1646.3" y2="1898.6" stroke-dasharray="1.5 5.6 1.5 15.1" stroke-dashoffset="3.0"/><line x1="160.0" y1="1914.0" x2="1646.3" y2="1914.0" stroke-dasharray="1.5 5.6 1.5 15.1" stroke-dashoffset="11.1"/><line x1="160.0" y1="1929.4" x2="1646.3" y2="1929.4" stroke-dasharray="1.5 5.6 1.5 5.6 1.5 8.0 1.5 5.6 1.5 15.1 1.5 5.6 1.5 15.1" stroke-dashoffset="3.0"/><line x1="160.0" y1="1944.8" x2="1646.3" y2="1944.8" stroke-dasharray="1.5 5.6 1.5 15.1" stroke-dashoffset="11.1"/><line x1="160.0" y1="1960.2" x2="1646.3" y2="1960.2" stroke-dasharray="1.5 5.6 1.5 15.1" stroke-dashoffset="3.0"/><line x1="160.0" y1="1975.6" x2="1646.3" y2="1975.6" stroke-dasharray="1.5 5.6 1.5 5.6 1.5 8.0 1.5 5.6 1.5 15.1 1.5 5.6 1.5 15.1" stroke-dashoffset="11.1"/></g>
<g stroke="#000" stroke-width="2.00" fill="none"><line x1="270.0" y1="1182.1" x2="270.0" y2="1195.7"/><line x1="270.0" y1="1991.0" x2="270.0" y2="1977.4"/><line x1="500.1" y1="1182.1" x2="500.1" y2="1195.7"/><line x1="500.1" y1="1991.0" x2="500.1" y2="1977.4"/><line x1="730.1" y1="1182.1" x2="730.1" y2="1195.7"/><line x1="730.1" y1="1991.0" x2="730.1" y2="1977.4"/><line x1="960.2" y1="1182.1" x2="960.2" y2="1195.7"/><line x1="960.2" y1="1991.0" x2="960.2" y2="1977.4"/><line x1="1190.2" y1="1182.1" x2="1190.2" y2="1195.7"/><line x1="1190.2" y1="1991.0" x2="1190.2" y2="1977.4"/><line x1="1420.3" y1="1182.1" x2="1420.3" y2="1195.7"/><line x1="1420.3" y1="1991.0" x2="1420.3" y2="1977.4"/><line x1="155.0" y1="1914.0" x2="170.0" y2="1914.0"/><line x1="1650.3" y1="1914.0" x2="1635.3" y2="1914.0"/><line x1="155.0" y1="1837.0" x2="170.0" y2="1837.0"/><line x1="1650.3" y1="1837.0" x2="1635.3" y2="1837.0"/><line x1="155.0" y1="1760.0" x2="170.0" y2="1760.0"/><line x1="1650.3" y1="1760.0" x2="1635.3" y2="1760.0"/><line x1="155.0" y1="1683.0" x2="170.0" y2="1683.0"/><line x1="1650.3" y1="1683.0" x2="1635.3" y2="1683.0"/><line x1="155.0" y1="1606.0" x2="170.0" y2="1606.0"/><line x1="1650.3" y1="1606.0" x2="1635.3" y2="1606.0"/><line x1="155.0" y1="1529.0" x2="170.0" y2="1529.0"/><line x1="1650.3" y1="1529.0" x2="1635.3" y2="1529.0"/><line x1="155.0" y1="1452.0" x2="170.0" y2="1452.0"/><line x1="1650.3" y1="1452.0" x2="1635.3" y2="1452.0"/><line x1="155.0" y1="1375.0" x2="170.0" y2="1375.0"/><line x1="1650.3" y1="1375.0" x2="1635.3" y2="1375.0"/><line x1="155.0" y1="1298.0" x2="170.0" y2="1298.0"/><line x1="1650.3" y1="1298.0" x2="1635.3" y2="1298.0"/><line x1="155.0" y1="1221.0" x2="170.0" y2="1221.0"/><line x1="1650.3" y1="1221.0" x2="1635.3" y2="1221.0"/></g>
<polyline points="156.6,1865.4 157.8,1958.1 159.0,1865.3 160.2,1958.9 161.4,1865.0 162.6,1940.7 163.8,1847.3 165.0,1939.8 166.2,1921.4 167.4,1966.8 168.6,1915.4 169.8,1969.9 171.0,1867.8 172.2,1967.6 173.4,1878.0 174.6,1937.2 175.8,1873.0 177.0,1931.1 178.2,1863.0 179.4,1952.9 180.6,1848.7 181.8,1955.5 183.0,1874.3 184.2,1953.7 185.4,1856.9 186.6,1916.3 187.8,1904.4 189.0,1914.6 190.2,1858.6 191.4,1965.0 192.6,1954.4 193.8,1984.2 195.0,1896.0 196.2,1960.9 197.4,1956.3 198.6,1978.0 199.8,1955.8 201.0,1984.2 202.2,1949.8 203.4,1959.4 204.6,1915.4 205.8,1938.9 207.0,1910.9 208.2,1959.8 209.4,1862.6 210.6,1960.5 211.8,1908.7 213.0,1965.2 214.2,1933.1 215.4,1953.4 216.6,1937.7 217.8,1975.5 219.0,1881.2 220.2,1947.0 221.4,1966.2 222.6,1969.2 223.8,1906.8 225.0,1981.4 226.2,1913.6 227.4,1984.2 228.6,1951.5 229.8,1969.1 231.0,1881.2 232.2,1952.0 233.4,1949.4 234.6,1953.7 235.8,1914.7 237.0,1965.8 238.2,1910.8 239.4,1984.2 240.6,1924.6 241.8,1981.1 243.0,1942.4 244.2,1953.4 245.4,1928.6 246.6,1946.7 247.8,1926.3 249.0,1968.5 250.2,1927.8 251.4,1972.2 252.6,1930.6 253.8,1975.5 255.0,1912.0 256.2,1946.7 257.4,1924.3 258.6,1983.3 259.8,1922.7 261.0,1967.5 262.2,1924.3 263.4,1983.8 264.6,1923.1 265.8,1984.1 267.0,1907.8 268.2,1956.0 269.4,1922.3 270.6,1984.2 271.8,1923.7 273.0,1966.2 274.2,1923.3 275.4,1981.5 276.6,1932.9 277.8,1979.8 279.0,1946.3 280.2,1959.8 281.4,1947.2 282.6,1954.5 283.8,1916.0 285.0,1955.0 286.2,1931.3 287.4,1983.3 288.6,1887.0 289.8,1982.0 291.0,1927.3 292.2,1966.4 293.4,1931.4 294.6,1979.0 295.8,1935.4 297.0,1962.7 298.2,1910.8 299.4,1981.0 300.6,1924.3 301.8,1980.6 303.0,1922.6 304.2,1963.4 305.4,1937.9 306.6,1960.6 307.8,1935.5 309.0,1984.2 310.2,1934.1 311.4,1983.4 312.6,1937.8 313.8,1982.6 315.0,1896.4 316.2,1950.6 317.4,1936.4 318.6,1946.2 319.8,1940.4 321.0,1953.0 322.2,1910.8 323.4,1974.8 324.6,1952.0 325.8,1976.9 327.0,1908.8 328.2,1975.5 329.4,1904.1 330.6,1945.3 331.8,1881.2 333.0,1947.7 334.2,1904.0 335.4,1984.2 336.6,1914.6 337.8,1982.4 339.0,1897.7 340.2,1947.1 341.4,1919.8 342.6,1975.5 343.8,1932.4 345.0,1938.7 346.2,1935.2 347.4,1954.0 348.6,1935.5 349.8,1978.5 351.0,1909.9 352.2,1980.0 353.4,1929.5 354.6,1961.0 355.8,1929.5 357.0,1962.1 358.2,1927.7 359.4,1984.2 360.6,1907.8 361.8,1983.3 363.0,1933.2 364.2,1965.7 365.4,1930.4 366.6,1952.5 367.8,1929.0 369.0,1956.0 370.2,1928.4 371.4,1975.5 372.6,1929.0 373.8,1977.1 375.0,1917.7 376.2,1959.4 377.4,1901.6 378.6,1945.0 379.8,1935.7 381.0,1948.0 382.2,1938.7 383.4,1981.6 384.6,1938.1 385.8,1980.3 387.0,1970.9 388.2,1973.9 389.4,1971.9 390.6,1974.9 391.8,1910.8 393.0,1979.8 394.2,1942.1 395.4,1965.1 396.6,1938.6 397.8,1980.9 399.0,1892.5 400.2,1981.7 401.4,1928.9 402.6,1946.1 403.8,1914.5 405.0,1948.8 406.2,1917.5 407.4,1983.3 408.6,1940.5 409.8,1983.0 411.0,1940.9 412.2,1983.4 413.4,1911.7 414.6,1965.7 415.8,1940.2 417.0,1985.0 418.2,1910.8 419.4,1960.9 420.6,1922.0 421.8,1974.4 423.0,1923.9 424.2,1979.0 425.4,1923.9 426.6,1977.2 427.8,1918.6 429.0,1975.5 430.2,1961.0 431.4,1964.0 432.6,1944.6 433.8,1977.2 435.0,1942.3 436.2,1976.2 437.4,1906.4 438.6,1974.7 439.8,1945.3 441.0,1953.1 442.2,1948.7 443.4,1951.7 444.6,1929.9 445.8,1957.1 447.0,1949.3 448.2,1972.0 449.4,1944.1 450.6,1970.5 451.8,1911.1 453.0,1968.8 454.2,1896.9 455.4,1966.8 456.6,1909.7 457.8,1936.6 459.0,1894.3 460.2,1940.2 461.4,1911.5 462.6,1957.5 463.8,1943.6 465.0,1985.0 466.2,1944.3 467.4,1978.2 468.6,1910.8 469.8,1971.1 471.0,1932.8 472.2,1954.2 473.4,1949.4 474.6,1958.2 475.8,1929.1 477.0,1970.4 478.2,1953.0 479.4,1981.2 480.6,1975.1 481.8,1983.3 483.0,1924.2 484.2,1978.5 485.4,1939.3 486.6,1951.7 487.8,1957.4 489.0,1971.1 490.2,1957.2 491.4,1981.6 492.6,1954.0 493.8,1963.2 495.0,1912.0 496.2,1949.2 497.4,1932.5 498.6,1948.8 499.8,1960.6 501.0,1970.3 502.2,1917.2 503.4,1972.0 504.6,1921.9 505.8,1971.1 507.0,1906.4 508.2,1972.0 509.4,1933.1 510.6,1940.5 511.8,1934.3 513.0,1954.2 514.2,1946.7 515.4,1981.1 516.6,1949.9 517.8,1985.0 519.0,1941.8 520.2,1959.2 521.4,1943.1 522.6,1956.5 523.8,1936.7 525.0,1967.9 526.2,1928.2 527.4,1985.6 528.6,1940.6 529.8,1984.5 531.0,1938.0 532.2,1968.2 533.4,1958.0 534.6,1985.0 535.8,1954.8 537.0,1957.8 538.2,1898.6 539.4,1967.8 540.6,1963.0 541.8,1966.0 543.0,1893.4 544.2,1979.0 545.4,1962.0 546.6,1982.4 547.8,1922.7 549.0,1931.1 550.2,1912.3 551.4,1918.9 552.6,1903.7 553.8,1937.2 555.0,1868.5 556.2,1941.2 557.4,1910.5 558.6,1948.2 559.8,1887.3 561.0,1928.3 562.2,1920.9 563.4,1963.3 564.6,1925.2 565.8,1946.0 567.0,1930.6 568.2,1973.3 569.4,1906.4 570.6,1978.0 571.8,1915.3 573.0,1985.0 574.2,1915.1 575.4,1942.3 576.6,1930.2 577.8,1951.2 579.0,1896.4 580.2,1970.5 581.4,1905.0 582.6,1965.9 583.8,1897.4 585.0,1923.9 586.2,1891.4 587.4,1921.5 588.6,1879.5 589.8,1960.6 591.0,1860.3 592.2,1959.3 593.4,1895.3 594.6,1957.2 595.8,1901.6 597.0,1940.0 598.2,1887.3 599.4,1957.4 600.6,1906.5 601.8,1958.8 603.0,1898.9 604.2,1958.1 605.4,1892.1 606.6,1909.2 607.8,1848.5 609.0,1917.9 610.2,1886.1 611.4,1946.8 612.6,1882.1 613.8,1959.8 615.0,1903.0 616.2,1958.9 617.4,1919.9 618.6,1931.8 619.8,1890.8 621.0,1928.2 622.2,1911.3 623.4,1940.7 624.6,1909.4 625.8,1942.5 627.0,1909.1 628.2,1923.1 629.4,1868.5 630.6,1923.4 631.8,1889.8 633.0,1947.6 634.2,1894.7 635.4,1955.7 636.6,1880.3 637.8,1939.2 639.0,1892.8 640.2,1923.5 641.4,1895.0 642.6,1926.5 643.8,1877.7 645.0,1984.5 646.2,1897.7 647.4,1959.9 648.6,1875.3 649.8,1924.6 651.0,1861.8 652.2,1921.5 653.4,1822.9 654.6,1896.4 655.8,1862.0 657.0,1915.3 658.2,1871.9 659.4,1932.8 660.6,1891.6 661.8,1936.7 663.0,1875.5 664.2,1929.0 665.4,1904.2 666.6,1950.2 667.8,1904.7 669.0,1922.8 670.2,1904.2 671.4,1943.0 672.6,1907.2 673.8,1948.9 675.0,1869.9 676.2,1928.4 677.4,1891.0 678.6,1949.4 679.8,1882.6 681.0,1910.5 682.2,1824.7 683.4,1939.6 684.6,1917.9 685.8,1935.7 687.0,1915.5 688.2,1930.2 689.4,1912.1 690.6,1915.1 691.8,1832.5 693.0,1898.5 694.2,1874.3 695.4,1922.4 696.6,1872.9 697.8,1918.1 699.0,1870.8 700.2,1915.4 701.4,1871.0 702.6,1877.1 703.8,1880.5 705.0,1883.5 706.2,1824.7 707.4,1894.0 708.6,1857.7 709.8,1921.4 711.0,1861.2 712.2,1922.4 713.4,1845.5 714.6,1906.7 715.8,1868.9 717.0,1900.9 718.2,1871.9 719.4,1934.3 720.6,1874.2 721.8,1939.8 723.0,1869.8 724.2,1908.4 725.4,1868.7 726.6,1892.8 727.8,1854.2 729.0,1905.3 730.2,1872.5 731.4,1919.8 732.6,1869.5 733.8,1922.4 735.0,1866.1 736.2,1901.3 737.4,1832.5 738.6,1928.5 739.8,1879.6 741.0,1941.2 742.2,1933.0 743.4,1956.1 744.6,1910.8 745.8,1957.7 747.0,1963.4 748.2,1979.8 749.4,1932.6 750.6,1957.8 751.8,1950.2 753.0,1985.0 754.2,1943.6 755.4,1967.8 756.6,1972.6 757.8,1980.8 759.0,1896.9 760.2,1973.1 761.4,1967.5 762.6,1976.3 763.8,1933.1 765.0,1947.4 766.2,1916.9 767.4,1960.4 768.6,1929.3 769.8,1954.6 771.0,1928.2 772.2,1945.3 773.4,1900.4 774.6,1942.9 775.8,1922.0 777.0,1978.1 778.2,1930.6 779.4,1952.5 780.6,1914.3 781.8,1962.3 783.0,1920.7 784.2,1951.1 785.4,1910.5 786.6,1935.3 787.8,1922.3 789.0,1929.8 790.2,1880.3 791.4,1979.0 792.6,1947.7 793.8,1956.8 795.0,1849.9 796.2,1966.7 797.4,1897.2 798.6,1943.9 799.8,1902.7 801.0,1927.2 802.2,1878.6 803.4,1920.0 804.6,1905.1 805.8,1933.7 807.0,1904.5 808.2,1942.6 809.4,1869.0 810.6,1953.2 811.8,1915.4 813.0,1963.0 814.2,1879.5 815.4,1951.1 816.6,1932.0 817.8,1979.0 819.0,1961.6 820.2,1964.6 821.4,1901.2 822.6,1958.6 823.8,1948.1 825.0,1949.4 826.2,1943.1 827.4,1950.4 828.6,1942.8 829.8,1945.8 831.0,1844.2 832.2,1905.3 833.4,1898.7 834.6,1936.7 835.8,1900.7 837.0,1961.6 838.2,1902.0 839.4,1938.2 840.6,1852.5 841.8,1917.2 843.0,1910.7 844.2,1973.7 845.4,1918.0 846.6,1945.6 847.8,1948.1 849.0,1975.8 850.2,1892.2 851.4,1975.9 852.6,1954.2 853.8,1978.1 855.0,1937.6 856.2,1948.4 857.4,1914.3 858.6,1974.9 859.8,1970.2 861.0,1983.3 862.2,1972.0 863.4,1983.6 864.6,1946.4 865.8,1967.4 867.0,1947.9 868.2,1965.5 869.4,1931.2 870.6,1968.7 871.8,1953.7 873.0,1983.3 874.2,1950.8 875.4,1984.4 876.6,1962.7 877.8,1985.0 879.0,1956.8 880.2,1971.3 881.4,1957.5 882.6,1968.3 883.8,1911.7 885.0,1978.3 886.2,1921.5 887.4,1985.0 888.6,1917.9 889.8,1984.2 891.0,1947.7 892.2,1950.9 893.4,1896.9 894.6,1948.4 895.8,1949.1 897.0,1968.5 898.2,1946.7 899.4,1981.6 900.6,1894.3 901.8,1981.7 903.0,1908.9 904.2,1947.4 905.4,1942.6 906.6,1945.6 907.8,1944.2 909.0,1979.0 910.2,1949.1 911.4,1981.0 912.6,1924.2 913.8,1981.6 915.0,1951.4 916.2,1975.5 917.4,1933.4 918.6,1966.9 919.8,1959.4 921.0,1985.6 922.2,1962.2 923.4,1970.3 924.6,1943.0 925.8,1976.9 927.0,1949.3 928.2,1979.8 929.4,1948.2 930.6,1979.4 931.8,1958.0 933.0,1979.8 934.2,1957.5 935.4,1964.6 936.6,1958.2 937.8,1981.1 939.0,1956.5 940.2,1982.9 941.4,1936.0 942.6,1985.0 943.8,1943.4 945.0,1968.1 946.2,1940.4 947.4,1966.3 948.6,1940.0 949.8,1982.4 951.0,1940.0 952.2,1982.8 953.4,1928.2 954.6,1983.9 955.8,1944.3 957.0,1966.3 958.2,1951.3 959.4,1985.0 960.6,1915.2 961.8,1981.8 963.0,1948.9 964.2,1979.3 965.4,1947.2 966.6,1975.5 967.8,1950.6 969.0,1965.0 970.2,1940.4 971.4,1971.9 972.6,1968.4 973.8,1971.4 975.0,1970.7 976.2,1982.4 977.4,1970.9 978.6,1983.7 979.8,1925.2 981.0,1983.3 982.2,1971.2 983.4,1974.2 984.6,1949.3 985.8,1985.6 987.0,1947.8 988.2,1969.6 989.4,1950.5 990.6,1983.6 991.8,1934.0 993.0,1981.4 994.2,1916.9 995.4,1960.8 996.6,1937.0 997.8,1959.3 999.0,1946.4 1000.2,1968.4 1001.4,1927.3 1002.6,1978.1 1003.8,1947.7 1005.0,1977.4 1006.2,1916.0 1007.4,1961.1 1008.6,1937.6 1009.8,1952.9 1011.0,1936.2 1012.2,1975.5 1013.4,1906.1 1014.6,1952.2 1015.8,1931.9 1017.0,1962.5 1018.2,1937.6 1019.4,1956.0 1020.6,1932.1 1021.8,1951.1 1023.0,1892.2 1024.2,1944.0 1025.4,1917.5 1026.6,1966.3 1027.8,1920.8 1029.0,1973.7 1030.2,1919.0 1031.4,1953.1 1032.6,1902.1 1033.8,1937.1 1035.0,1933.8 1036.2,1939.3 1037.4,1935.9 1038.6,1971.1 1039.8,1916.9 1041.0,1970.0 1042.2,1931.9 1043.4,1969.6 1044.6,1933.3 1045.8,1952.0 1047.0,1907.3 1048.2,1969.4 1049.4,1955.7 1050.6,1958.7 1051.8,1941.2 1053.0,1967.1 1054.2,1945.2 1055.4,1979.0 1056.6,1927.3 1057.8,1978.4 1059.0,1924.5 1060.2,1951.4 1061.4,1913.5 1062.6,1948.2 1063.8,1898.8 1065.0,1974.8 1066.2,1877.7 1067.4,1972.4 1068.6,1901.6 1069.8,1972.0 1071.0,1946.9 1072.2,1949.9 1073.4,1903.8 1074.6,1949.5 1075.8,1950.1 1077.0,1953.1 1078.2,1950.5 1079.4,1965.9 1080.6,1913.3 1081.8,1967.9 1083.0,1913.5 1084.2,1948.0 1085.4,1906.4 1086.6,1944.3 1087.8,1930.1 1089.0,1949.0 1090.2,1932.1 1091.4,1977.2 1092.6,1952.1 1093.8,1974.1 1095.0,1951.7 1096.2,1959.7 1097.4,1910.8 1098.6,1957.3 1099.8,1950.3 1101.0,1961.5 1102.2,1924.6 1103.4,1961.6 1104.6,1921.7 1105.8,1951.2 1107.0,1919.1 1108.2,1938.8 1109.4,1919.9 1110.6,1937.1 1111.8,1880.3 1113.0,1949.3 1114.2,1920.3 1115.4,1966.8 1116.6,1912.8 1117.8,1969.8 1119.0,1883.5 1120.2,1939.0 1121.4,1912.2 1122.6,1952.4 1123.8,1910.8 1125.0,1976.7 1126.2,1925.4 1127.4,1979.0 1128.6,1923.9 1129.8,1958.7 1131.0,1931.3 1132.2,1951.9 1133.4,1929.9 1134.6,1955.0 1135.8,1925.2 1137.0,1974.9 1138.2,1928.3 1139.4,1973.1 1140.6,1924.9 1141.8,1955.0 1143.0,1883.5 1144.2,1971.1 1145.4,1947.8 1146.6,1961.7 1147.8,1948.6 1149.0,1972.0 1150.2,1903.8 1151.4,1973.1 1152.6,1961.3 1153.8,1964.3 1155.0,1961.7 1156.2,1964.7 1157.4,1931.7 1158.6,1974.6 1159.8,1953.8 1161.0,1962.8 1162.2,1935.4 1163.4,1938.4 1164.6,1923.4 1165.8,1933.7 1167.0,1911.1 1168.2,1914.1 1169.4,1837.2 1170.6,1902.1 1171.8,1870.7 1173.0,1898.9 1174.2,1867.0 1175.4,1904.8 1176.6,1868.2 1177.8,1911.4 1179.0,1828.5 1180.2,1880.1 1181.4,1857.0 1182.6,1888.8 1183.8,1872.5 1185.0,1932.0 1186.2,1890.2 1187.4,1935.7 1188.6,1881.2 1189.8,1941.4 1191.0,1897.5 1192.2,1913.9 1193.4,1901.5 1194.6,1949.4 1195.8,1899.7 1197.0,1938.2 1198.2,1876.9 1199.4,1931.3 1200.6,1916.6 1201.8,1925.0 1203.0,1881.2 1204.2,1884.2 1205.4,1821.5 1206.6,1866.7 1207.8,1848.5 1209.0,1857.1 1210.2,1855.5 1211.4,1865.7 1212.6,1860.8 1213.8,1873.6 1215.0,1820.3 1216.2,1862.1 1217.4,1865.9 1218.6,1889.3 1219.8,1867.2 1221.6,1800.0 1224.5,1790.0 1226.0,1770.0 1226.8,1735.0 1228.1,1663.0 1229.3,1605.0 1232.2,1490.0 1233.6,1406.0 1234.2,1370.0 1234.9,1285.0 1236.3,1233.0 1237.2,1220.8 1237.9,1233.0 1238.8,1285.0 1239.8,1370.0 1240.8,1406.0 1241.9,1490.0 1244.8,1605.0 1246.3,1663.0 1249.0,1735.0 1250.2,1764.0 1252.5,1782.0 1254.0,1800.0 1255.8,1870.2 1257.0,1831.8 1258.2,1834.5 1259.4,1834.3 1260.6,1847.7 1261.8,1861.4 1263.0,1869.3 1264.2,1828.5 1265.4,1910.8 1266.6,1909.3 1267.8,1936.3 1269.0,1868.8 1270.2,1901.9 1271.4,1877.9 1272.6,1926.8 1273.8,1903.2 1275.0,1919.1 1276.2,1889.4 1277.4,1936.4 1278.6,1913.1 1279.8,1940.7 1281.0,1915.1 1282.2,1934.8 1283.4,1918.4 1284.6,1931.6 1285.8,1900.4 1287.0,1942.1 1288.2,1928.0 1289.4,1963.9 1290.6,1922.9 1291.8,1967.6 1293.0,1920.4 1294.2,1960.8 1295.4,1937.5 1296.6,1959.8 1297.8,1944.4 1299.0,1975.2 1300.2,1950.0 1301.4,1985.0 1302.6,1953.3 1303.8,1977.0 1305.0,1959.1 1306.2,1966.8 1307.4,1957.3 1308.6,1985.0 1309.8,1953.3 1311.0,1971.2 1312.2,1928.2 1313.4,1983.1 1314.6,1954.4 1315.8,1982.4 1317.0,1946.5 1318.2,1982.4 1319.4,1939.5 1320.6,1971.9 1321.8,1950.0 1323.0,1974.1 1324.2,1950.4 1325.4,1985.0 1326.6,1956.9 1327.8,1984.3 1329.0,1943.0 1330.2,1977.2 1331.4,1954.5 1332.6,1970.9 1333.8,1947.8 1335.0,1969.7 1336.2,1944.3 1337.4,1983.3 1338.6,1950.0 1339.8,1982.3 1341.0,1946.5 1342.2,1972.7 1343.4,1944.1 1344.6,1958.9 1345.8,1920.4 1347.0,1961.3 1348.2,1953.1 1349.4,1965.8 1350.6,1948.2 1351.8,1977.5 1353.0,1964.4 1354.2,1981.6 1355.4,1964.8 1356.6,1980.9 1357.8,1964.8 1359.0,1971.0 1360.2,1954.8 1361.4,1979.8 1362.6,1951.5 1363.8,1964.9 1365.0,1936.0 1366.2,1966.3 1367.4,1943.9 1368.6,1974.7 1369.8,1939.9 1371.0,1973.2 1372.2,1957.2 1373.4,1972.9 1374.6,1905.2 1375.8,1958.4 1377.0,1941.1 1378.2,1962.9 1379.4,1944.0 1380.6,1972.9 1381.8,1920.4 1383.0,1960.6 1384.2,1945.1 1385.4,1955.7 1386.6,1949.9 1387.8,1963.1 1389.0,1936.0 1390.2,1982.5 1391.4,1963.7 1392.6,1985.1 1393.8,1953.0 1395.0,1960.3 1396.2,1916.4 1397.4,1951.2 1398.6,1949.5 1399.8,1952.5 1401.0,1948.1 1402.2,1964.2 1403.4,1924.4 1404.6,1963.5 1405.8,1930.4 1407.0,1962.1 1408.2,1925.2 1409.4,1949.3 1410.6,1910.5 1411.8,1959.8 1413.0,1918.5 1414.2,1929.7 1415.4,1931.0 1416.6,1934.0 1417.8,1902.1 1419.0,1955.5 1420.2,1945.3 1421.4,1948.5 1422.6,1859.0 1423.8,1939.8 1425.0,1928.1 1426.2,1931.1 1427.4,1884.3 1428.6,1927.6 1429.8,1856.9 1431.0,1884.4 1432.2,1865.4 1433.4,1885.9 1434.6,1845.3 1435.8,1873.1 1437.0,1802.9 1438.2,1840.4 1439.4,1817.2 1440.6,1847.6 1441.8,1807.7 1443.0,1833.7 1444.2,1779.4 1445.4,1837.8 1446.6,1812.0 1447.8,1844.1 1449.0,1809.9 1450.2,1856.1 1451.4,1845.0 1452.6,1913.7 1453.8,1841.2 1455.0,1892.0 1456.2,1872.3 1457.4,1913.2 1458.6,1872.2 1459.8,1921.5 1461.0,1884.3 1462.2,1924.2 1463.4,1887.5 1464.6,1931.1 1465.8,1888.3 1467.0,1926.8 1468.2,1879.1 1469.4,1965.9 1470.6,1907.4 1471.8,1972.9 1473.0,1920.6 1474.2,1971.9 1475.4,1911.2 1476.6,1953.4 1477.8,1922.5 1479.0,1971.1 1480.2,1930.9 1481.4,1946.9 1482.6,1925.7 1483.8,1955.5 1485.0,1896.0 1486.2,1958.5 1487.4,1921.5 1488.6,1960.7 1489.8,1933.8 1491.0,1949.4 1492.2,1940.9 1493.4,1969.4 1494.6,1922.1 1495.8,1957.9 1497.0,1925.9 1498.2,1970.3 1499.4,1924.4 1500.6,1973.5 1501.8,1914.3 1503.0,1978.1 1504.2,1948.0 1505.4,1961.8 1506.6,1951.6 1507.8,1960.4 1509.0,1928.2 1510.2,1963.6 1511.4,1946.5 1512.6,1980.7 1513.8,1946.3 1515.0,1980.6 1516.2,1949.7 1517.4,1971.0 1518.6,1930.8 1519.8,1963.5 1521.0,1947.6 1522.2,1985.1 1523.4,1948.8 1524.6,1979.5 1525.8,1960.9 1527.0,1985.3 1528.2,1961.5 1529.4,1985.1 1530.6,1963.1 1531.8,1985.1 1533.0,1940.0 1534.2,1978.2 1535.4,1974.6 1536.6,1977.6 1537.8,1951.2 1539.0,1974.6 1540.2,1948.4 1541.4,1977.0 1542.6,1937.3 1543.8,1977.1 1545.0,1954.7 1546.2,1973.5 1547.4,1952.9 1548.6,1969.1 1549.8,1937.8 1551.0,1983.3 1552.2,1952.6 1553.4,1971.5 1554.6,1955.0 1555.8,1984.5 1557.0,1953.3 1558.2,1985.1 1559.4,1931.3 1560.6,1973.9 1561.8,1950.3 1563.0,1969.9 1564.2,1954.1 1565.4,1971.8 1566.6,1944.2 1567.8,1982.1 1569.0,1979.6 1570.2,1983.3 1571.4,1973.7 1572.6,1977.6 1573.8,1928.2 1575.0,1964.4 1576.2,1944.7 1577.4,1970.3 1578.6,1944.5 1579.8,1962.6 1581.0,1950.2 1582.2,1979.8 1583.4,1948.8 1584.6,1968.5 1585.8,1922.1 1587.0,1949.4 1588.2,1928.4 1589.4,1982.4 1590.6,1925.6 1591.8,1975.9 1593.0,1913.4 1594.2,1963.3 1595.4,1946.9 1596.6,1956.0 1597.8,1957.1 1599.0,1966.7 1600.2,1945.6 1601.4,1981.6 1602.6,1962.1 1603.8,1982.7 1605.0,1961.1 1606.2,1965.6 1607.4,1961.4 1608.6,1964.4 1609.8,1937.3 1611.0,1985.1 1612.2,1942.8 1613.4,1973.7 1614.6,1942.5 1615.8,1983.4 1617.0,1967.4 1618.2,1983.3 1619.4,1930.8 1620.6,1983.3 1621.8,1969.0 1623.0,1972.0 1624.2,1954.1 1625.4,1983.2 1626.6,1957.6 1627.8,1984.5 1629.0,1950.0 1630.2,1985.1 1631.4,1962.3 1632.6,1969.2 1633.8,1950.6 1635.0,1968.8 1636.2,1949.1 1637.4,1975.0 1638.6,1940.4 1639.8,1972.9 1641.0,1971.5 1642.2,1974.5 1643.4,1975.2 1644.6,1978.2 1645.8,1930.8 1647.0,1985.1 1648.2,1967.3 1649.4,1984.1" fill="none" stroke="#000" stroke-width="5.90" stroke-linejoin="round" stroke-linecap="round"/>
<rect x="155.0" y="1182.1" width="1495.3" height="808.9" fill="none" stroke="#000" stroke-width="3.9"/>
<g font-family="'Liberation Sans', Arial, Helvetica, sans-serif" fill="#000"><text transform="translate(141.0 2005.8) scale(1 1.110)" font-size="31" text-anchor="end">0</text><text transform="translate(141.0 1928.8) scale(1 1.110)" font-size="31" text-anchor="end">0.1</text><text transform="translate(141.0 1851.8) scale(1 1.110)" font-size="31" text-anchor="end">0.2</text><text transform="translate(141.0 1774.8) scale(1 1.110)" font-size="31" text-anchor="end">0.3</text><text transform="translate(141.0 1697.8) scale(1 1.110)" font-size="31" text-anchor="end">0.4</text><text transform="translate(141.0 1620.8) scale(1 1.110)" font-size="31" text-anchor="end">0.5</text><text transform="translate(141.0 1543.8) scale(1 1.110)" font-size="31" text-anchor="end">0.6</text><text transform="translate(141.0 1466.8) scale(1 1.110)" font-size="31" text-anchor="end">0.7</text><text transform="translate(141.0 1389.8) scale(1 1.110)" font-size="31" text-anchor="end">0.8</text><text transform="translate(141.0 1312.8) scale(1 1.110)" font-size="31" text-anchor="end">0.9</text><text transform="translate(141.0 1235.8) scale(1 1.110)" font-size="31" text-anchor="end">1</text><text transform="translate(269.4 2035.8) scale(1 1.070)" font-size="31" text-anchor="middle">0.6</text><text transform="translate(499.5 2035.8) scale(1 1.070)" font-size="31" text-anchor="middle">0.8</text><text transform="translate(729.5 2035.8) scale(1 1.070)" font-size="31" text-anchor="middle">1</text><text transform="translate(959.6 2035.8) scale(1 1.070)" font-size="31" text-anchor="middle">1.2</text><text transform="translate(1189.6 2035.8) scale(1 1.070)" font-size="31" text-anchor="middle">1.4</text><text transform="translate(1419.7 2035.8) scale(1 1.070)" font-size="31" text-anchor="middle">1.6</text><text transform="translate(1649.7 2035.8) scale(1 1.070)" font-size="31" text-anchor="middle">1.8</text><text x="1574.4" y="2089.9" font-size="36">×</text><text transform="translate(1599.2 2086.9) scale(1 1.070)" font-size="31" text-anchor="start">10</text><text transform="translate(1634.3 2070.1) scale(1 0.970)" font-size="25.5" text-anchor="start">4</text></g>
<g font-family="'Liberation Sans', Arial, Helvetica, sans-serif" font-weight="bold" font-size="44.3" fill="#000"><text x="645.3" y="1168.0" font-size="44.85">Bode plot - Rotor with magnets</text><text x="782.8" y="2080.0" font-size="44.7">Frequency (Hz)</text><text transform="translate(82.1 1588.9) rotate(-90)" font-size="46.5" letter-spacing="-8.9" text-anchor="middle">FFT</text><text x="1256.5" y="1240.8" word-spacing="2.5">14416 Hz</text><text x="1370.8" y="1761.0" word-spacing="2.5">16226 Hz</text></g>
<text x="156.3" y="1148.2" font-family="'Liberation Sans', Arial, Helvetica, sans-serif" font-size="66.5" fill="#000">b.</text>
<!-- scan seams -->
<g shape-rendering="crispEdges"><rect x="0" y="1666.0" width="1724" height="1" fill="#fff"/><rect x="0" y="1738.0" width="1724" height="1" fill="#fff"/><rect x="0" y="1810.0" width="1724" height="1" fill="#fff"/><rect x="0" y="1882.0" width="1724" height="1" fill="#fff"/><rect x="0" y="1954.0" width="1724" height="1" fill="#fff"/><rect x="0" y="2026.0" width="1724" height="1" fill="#fff"/></g>
</svg>
</body>
</html>
